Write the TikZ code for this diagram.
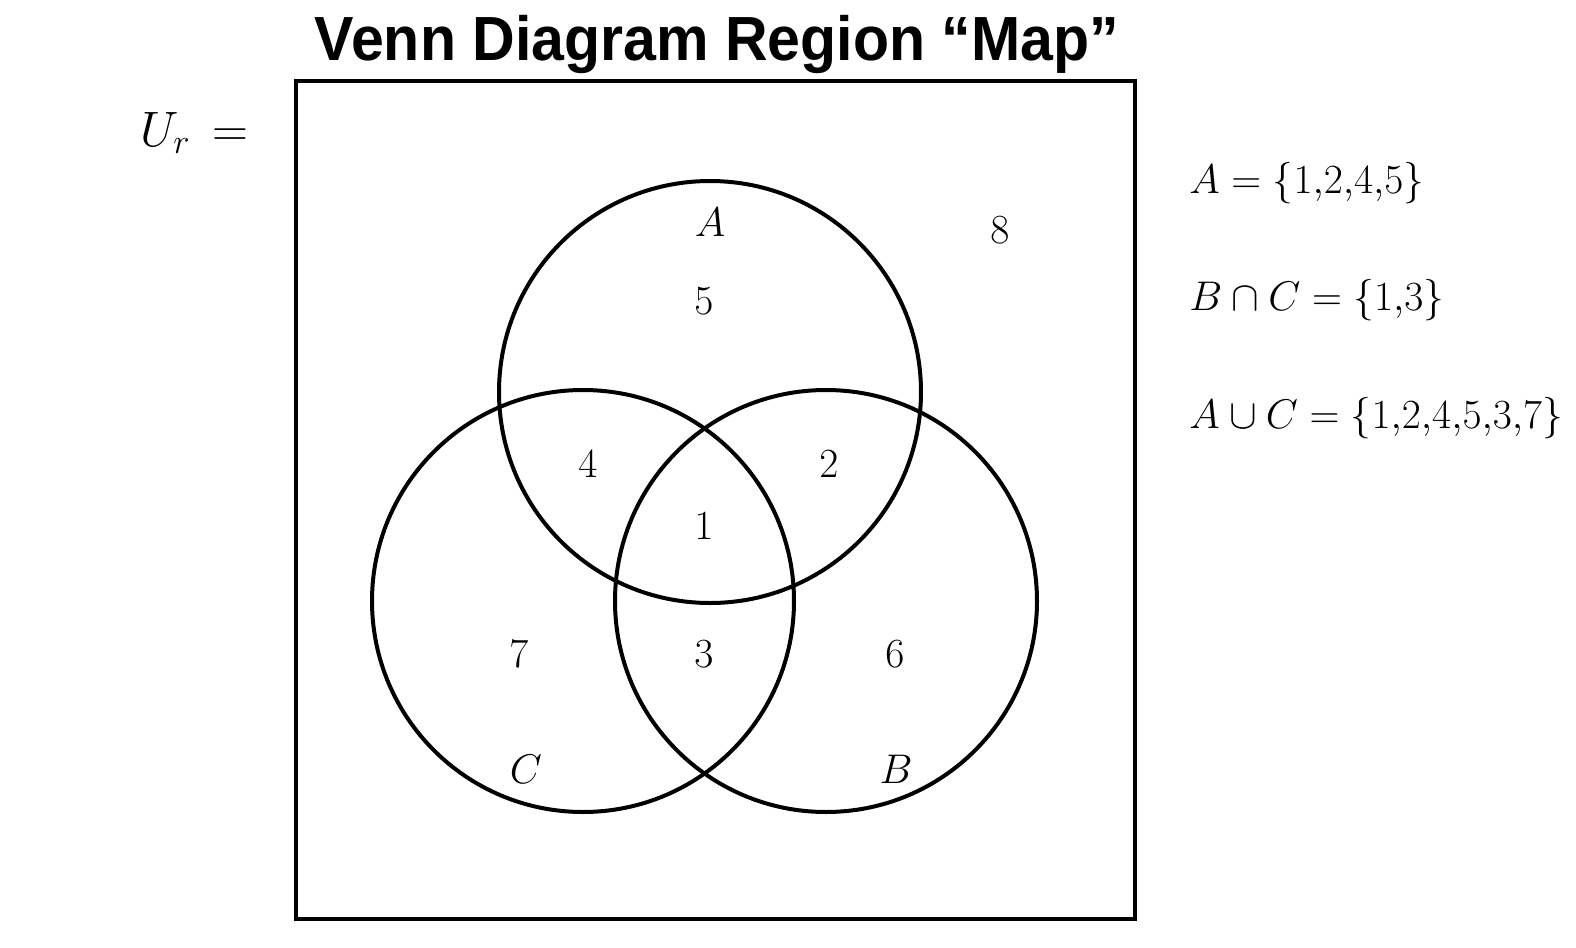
\documentclass[tikz,border=0pt]{standalone}
\usepackage{fontspec}
\newfontfamily\titlefont{Liberation Sans}
\begin{document}
\begin{tikzpicture}[x=0.5pt,y=-0.5pt,
  setcircle/.style={draw=black,line width=2pt,circle,minimum size=211pt,inner sep=0pt},
  lbl/.style={inner sep=0pt,anchor=base,font=\fontsize{21.5}{26}\selectfont},
  eqn/.style={inner sep=0pt,anchor=base west,font=\fontsize{20}{24}\selectfont}]
\useasboundingbox (0,0) rectangle (1576,948);
% title
\node[inner sep=0pt,anchor=base] (title) at (717,60) {\resizebox{402pt}{22.6pt}{\titlefont\bfseries Venn Diagram Region “Map”}};
% universe box
\node[draw=black,line width=2pt,inner sep=0pt,minimum width=839*0.5pt,minimum height=838*0.5pt] (U) at (715,500) {};
\node[lbl,anchor=base west,font=\fontsize{23}{27}\selectfont] (ulabel) at (140,146) {$U_r\,=$};
% circles
\node[setcircle] (cA) at (710,392) {};
\node[setcircle] (cC) at (583,601) {};
\node[setcircle] (cB) at (826,601) {};
% labels
\node[lbl] (nA) at (710,236) {$A$};
\node[lbl] (n5) at (704,314) {$5$};
\node[lbl] (n8) at (1000,243) {$8$};
\node[lbl] (n4) at (588,477) {$4$};
\node[lbl] (n2) at (829,477) {$2$};
\node[lbl] (n1) at (704,539) {$1$};
\node[lbl] (n7) at (519,667) {$7$};
\node[lbl] (n3) at (704,667) {$3$};
\node[lbl] (n6) at (895,667) {$6$};
\node[lbl] (nC) at (526,783) {$C$};
\node[lbl] (nB) at (896,783) {$B$};
% equations
\node[eqn] (e1) at (1189,193) {$A=\{1{,}2{,}4{,}5\}$};
\node[eqn] (e2) at (1189,310) {$B\cap C=\{1{,}3\}$};
\node[eqn] (e3) at (1189,428) {$A\cup C=\{1{,}2{,}4{,}5{,}3{,}7\}$};
\end{tikzpicture}
\end{document}
